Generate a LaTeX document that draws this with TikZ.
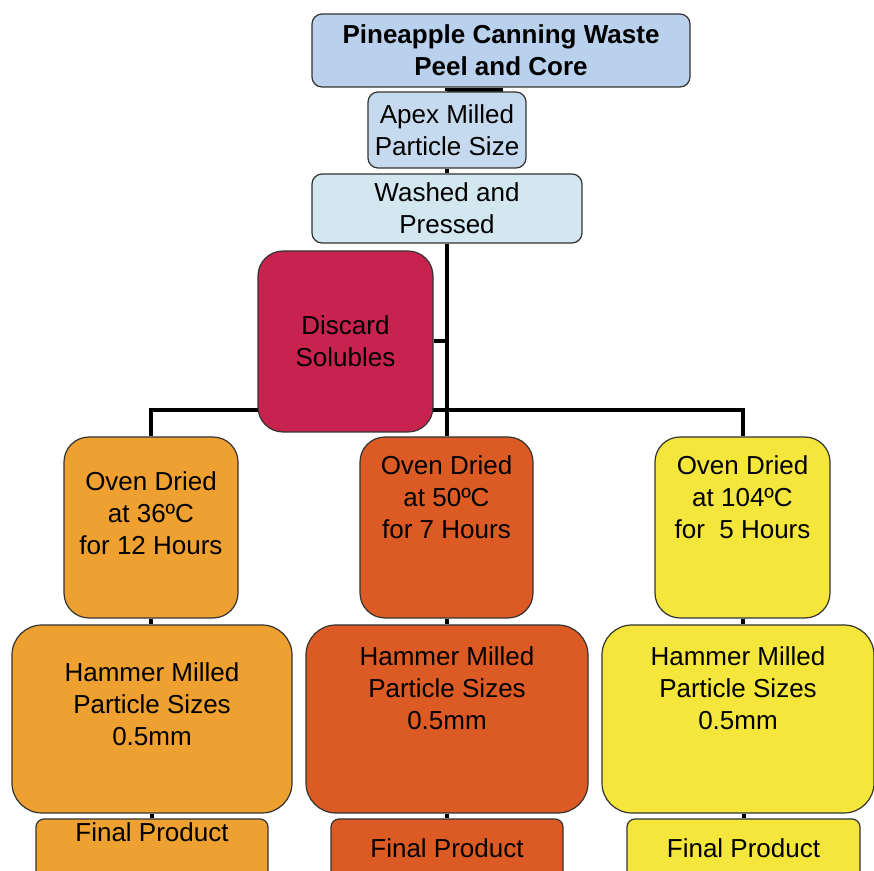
\documentclass[tikz,border=0pt]{standalone}
\usepackage{fontspec}
\setmainfont{Liberation Sans}
\usetikzlibrary{calc,backgrounds}

\definecolor{peelblue}{HTML}{B9D1EC}
\definecolor{apexblue}{HTML}{C6DAEF}
\definecolor{washblue}{HTML}{D3E7F1}
\definecolor{discred}{HTML}{C8234F}
\definecolor{dryorange}{HTML}{EEA030}
\definecolor{dryrust}{HTML}{DC5A23}
\definecolor{dryyellow}{HTML}{F5E63C}

\begin{document}
\begin{tikzpicture}[x=0.5pt,y=-0.5pt,line join=round,
  box/.style={draw=black!80,line width=0.6pt,rounded corners=#1,inner sep=0pt,
    align=center,font=\fontsize{13}{16}\selectfont},
  box/.default=5pt,
  txt/.style={align=center,inner sep=0pt,font=\fontsize{13}{16}\selectfont},
  wire/.style={line width=2pt,black}]
  \useasboundingbox (0,0) rectangle (874,871);
  \clip (0,0) rectangle (874,871);

  % --- catena in alto
  \node[box,fill=peelblue,minimum width=189pt,minimum height=36.5pt] (peel) at (501,50.5)
    {\bfseries Pineapple Canning Waste\\\bfseries Peel and Core};
  \node[box,fill=apexblue,minimum width=79pt,minimum height=38pt] (apex) at (447,130)
    {Apex Milled\\Particle Size};
  \node[box,fill=washblue,minimum width=135pt,minimum height=34.5pt] (wash) at (447,208.5)
    {Washed and\\Pressed};
  \node[box=12.5pt,fill=discred,minimum width=87.5pt,minimum height=90.5pt] (disc) at (345.5,341.5)
    {Discard\\Solubles};

  % --- essiccazione in forno
  \node[box=12.5pt,fill=dryorange,minimum width=87pt,minimum height=90.5pt] (o36) at (151,527.5) {};
  \node[box=12.5pt,fill=dryrust,minimum width=86.5pt,minimum height=90.5pt] (o50) at (446.5,527.5) {};
  \node[box=12.5pt,fill=dryyellow,minimum width=87.5pt,minimum height=90.5pt] (o104) at (742.5,527.5) {};
  \node[txt] (o36t) at ($(o36)+(0,-14)$) {Oven Dried\\at 36ºC\\for 12 Hours};
  \node[txt] (o50t) at ($(o50)+(0,-30)$) {Oven Dried\\at 50ºC\\for 7 Hours};
  \node[txt] (o104t) at ($(o104)+(0,-30)$) {Oven Dried\\at 104ºC\\for\ \ 5 Hours};

  % --- macinazione a martelli
  \node[box=15pt,fill=dryorange,minimum width=140pt,minimum height=94pt] (h36) at (152,719) {};
  \node[box=15pt,fill=dryrust,minimum width=141pt,minimum height=94pt] (h50) at (447,719) {};
  \node[box=15pt,fill=dryyellow,minimum width=136pt,minimum height=94pt] (h104) at (738,719) {};
  \node[txt] (h36t) at ($(h36)+(0,-15)$) {Hammer Milled\\Particle Sizes\\0.5mm};
  \node[txt] (h50t) at ($(h50)+(0,-31)$) {Hammer Milled\\Particle Sizes\\0.5mm};
  \node[txt] (h104t) at ($(h104)+(0,-31)$) {Hammer Milled\\Particle Sizes\\0.5mm};

  % --- prodotto finale
  \node[box=4pt,fill=dryorange,minimum width=116pt,minimum height=32.5pt] (f36) at (152,851.5) {};
  \node[box=4pt,fill=dryrust,minimum width=116pt,minimum height=32.5pt] (f50) at (447,851.5) {};
  \node[box=4pt,fill=dryyellow,minimum width=116.5pt,minimum height=32.5pt] (f104) at (743.5,851.5) {};
  \node[txt] (f36t) at ($(f36)+(0,-19)$) {Final Product};
  \node[txt] (f50t) at ($(f50)+(0,-3)$) {Final Product};
  \node[txt] (f104t) at ($(f104)+(0,-3)$) {Final Product};

  % --- collegamenti, dietro ai riquadri
  \begin{scope}[on background layer]
    \draw[wire] (peel.south) -- ++(0,2.5) -| (apex.north);
    \draw[wire] (apex.south) -- (wash.north);
    \draw[wire] (wash.south) -- (wash.south |- o50.north);
    \draw[wire] (disc.east) -- (disc.east -| wash.south);
    \draw[wire] (o36.north) -- ++(0,-26) -| (o104.north);
    \draw[wire] (o36.south) -- (o36.south |- h36.north);
    \draw[wire] (o50.south) -- (o50.south |- h50.north);
    \draw[wire] (o104.south) -- (o104.south |- h104.north);
    \draw[wire] (h36.south) -- (h36.south |- f36.north);
    \draw[wire] (h50.south) -- (h50.south |- f50.north);
    \draw[wire] (h104.south -| f104.north) -- (f104.north);
  \end{scope}
\end{tikzpicture}
\end{document}
